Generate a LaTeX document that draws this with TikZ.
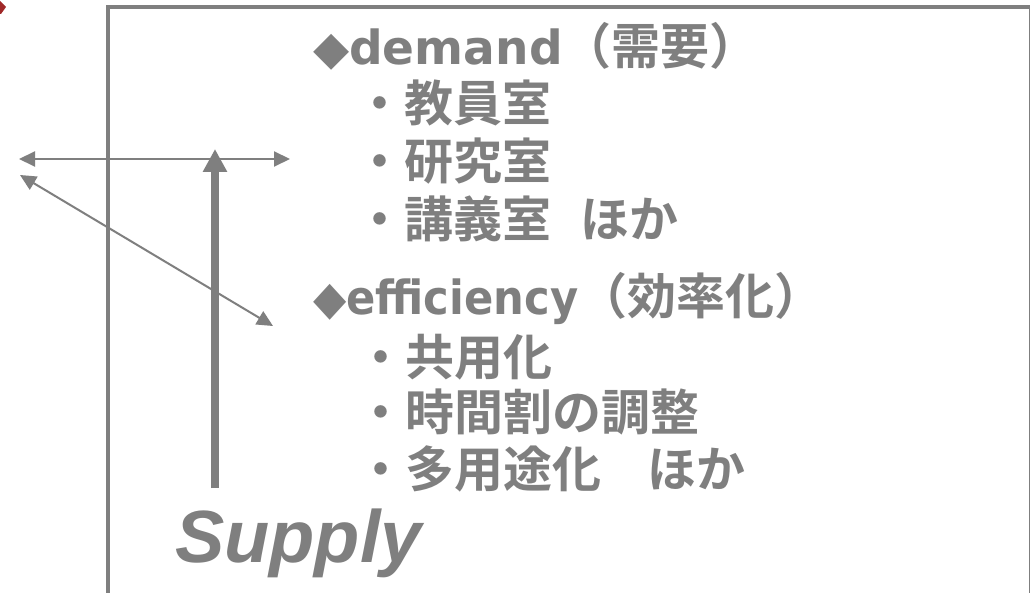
\documentclass[tikz,border=0pt]{standalone}
\usepackage{fontspec}
\usepackage{graphicx}
\usetikzlibrary{arrows.meta}
\newfontfamily\cjk{Noto Sans CJK JP Bold}
\newfontfamily\lat{DejaVu Sans Bold}
\newfontfamily\supplyfont{Liberation Sans}[BoldItalicFont={Liberation Sans Bold Italic}]
\definecolor{fg}{RGB}{127,127,127}
\definecolor{redmark}{RGB}{160,40,40}
\tikzset{
  txt/.style={anchor=base west, inner sep=0pt, text=fg, font=\fontsize{49}{49}\selectfont},
  thin arrow/.style={draw=fg, line width=2pt, {Triangle[length=16pt,width=15pt]}-{Triangle[length=16pt,width=15pt]}},
  thick arrow/.style={draw=fg, line width=8pt, -{Triangle[length=23pt,width=23pt]}},
  frame/.style={draw=fg, line width=4pt}
}
\newcommand{\latin}[1]{{\lat\fontsize{47}{47}\selectfont #1}}
\begin{document}
\begin{tikzpicture}[x=1pt,y=-1pt]
\useasboundingbox (0,0) rectangle (1030,593);
\fill[white] (0,0) rectangle (1030,593);
% clipped red mark at top left
\fill[redmark] (0,1) -- (6,7) -- (1,14) -- (0,14) -- cycle;
% frame
\draw[frame] (108,7) rectangle (1031,640);
% text
\node[txt] (d0) at (313,65) {\latin{◆demand}{\cjk（需要）}};
\node[txt] (d1) at (355,122) {\cjk ・教員室};
\node[txt] (d2) at (355,180) {\cjk ・研究室};
\node[txt] (d3) at (355,238) {\cjk ・講義室\hspace{29pt}ほか};
\node[txt] (e0) at (313,315) {\scalebox{0.92}[1]{\latin{◆efficiency}}{\cjk（効率化）}};
\node[txt] (e1) at (356,375) {\cjk ・共用化};
\node[txt] (e2) at (356,430) {\cjk ・時間割の調整};
\node[txt] (e3) at (356,487) {\cjk ・多用途化\hspace{46pt}ほか};
\node[anchor=base west, inner sep=0pt, text=fg, font=\supplyfont\bfseries\itshape\fontsize{74}{74}\selectfont] (s) at (175,562) {Supply};
% arrows
\coordinate (hL) at (19,159);
\coordinate (hR) at (290,159);
\coordinate (gL) at (20,175);
\coordinate (gR) at (273,326);
\coordinate (vB) at (215,488);
\coordinate (vT) at (215,149);
\draw[thin arrow] (hL) -- (hR);
\draw[thin arrow] (gL) -- (gR);
\draw[thick arrow] (vB) -- (vT);
\end{tikzpicture}
\end{document}
